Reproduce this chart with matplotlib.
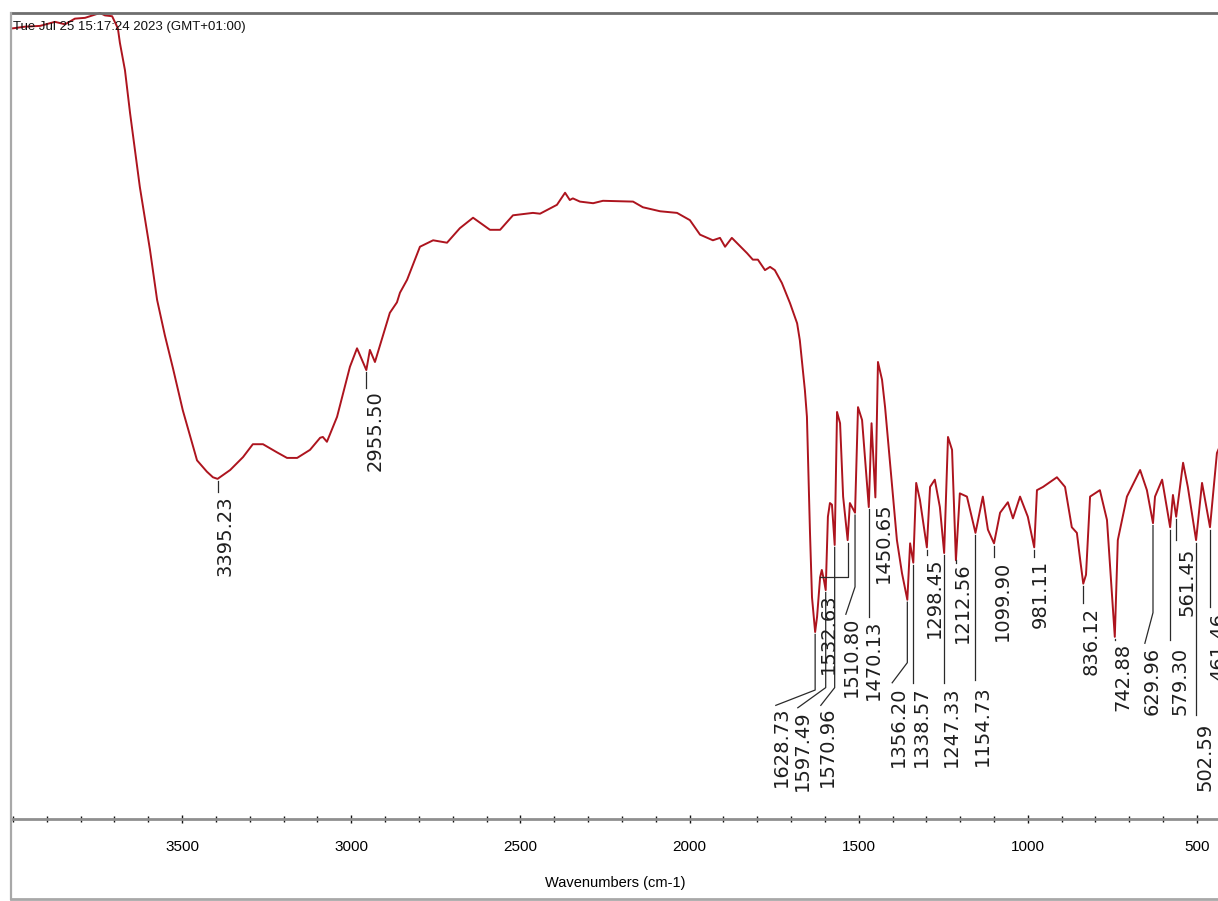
import numpy as np
import matplotlib.pyplot as plt
from matplotlib.lines import Line2D

# FTIR spectrum, wavenumber (cm-1) vs transmittance (%T)
wavenumber = [
    4000, 3965, 3920, 3876, 3846, 3817, 3787, 3758, 3743, 3728, 3707, 3690,
    3684, 3669, 3654, 3625, 3595, 3574, 3551, 3527, 3498, 3456, 3427, 3409,
    3395.23, 3358, 3320, 3291, 3261, 3220, 3190, 3160, 3122, 3092, 3084, 3072,
    3042, 3004, 2983, 2955.50, 2945, 2930, 2886, 2865, 2856, 2835, 2797, 2758,
    2717, 2679, 2640, 2590, 2560, 2522, 2463, 2442, 2392, 2368, 2354, 2345,
    2324, 2285, 2256, 2167, 2138, 2087, 2037, 1999, 1969, 1931, 1910, 1895,
    1875, 1830, 1813, 1798, 1777, 1762, 1748, 1727, 1703, 1682, 1674, 1668,
    1659, 1653, 1644, 1638, 1628.73, 1623, 1614, 1609, 1603, 1597.49, 1591,
    1585, 1579, 1570.96, 1564, 1555, 1546, 1532.63, 1526, 1510.80, 1502, 1490,
    1470.13, 1462, 1450.65, 1443, 1431, 1422, 1408, 1387, 1372, 1356.20, 1348,
    1338.57, 1330, 1319, 1298.45, 1289, 1275, 1260, 1247.33, 1236, 1224,
    1212.56, 1201, 1180, 1154.73, 1133, 1118, 1099.90, 1082, 1059, 1044, 1023,
    1000, 981.11, 973, 955, 914, 890, 870, 855, 845, 836.12, 828, 816, 787,
    766, 742.88, 734, 707, 668, 648, 629.96, 624, 603, 579.30, 571, 561.45,
    541, 527, 502.59, 485, 461.46, 441, 425,
]
transmittance = [
    98.1, 98.3, 98.4, 98.9, 98.6, 99.3, 99.4, 99.8, 100.0, 99.7, 99.6, 98.1,
    96.3, 92.9, 87.6, 78.4, 70.6, 64.4, 60.0, 55.9, 50.7, 44.5, 43.1, 42.4,
    42.2, 43.3, 44.9, 46.5, 46.5, 45.5, 44.8, 44.8, 45.8, 47.3, 47.4, 46.8,
    49.9, 56.1, 58.4, 55.7, 58.2, 56.7, 62.8, 64.1, 65.3, 66.9, 71.0, 71.8,
    71.5, 73.3, 74.6, 73.1, 73.1, 74.9, 75.2, 75.1, 76.2, 77.7, 76.8, 77.0,
    76.6, 76.4, 76.7, 76.6, 75.9, 75.4, 75.2, 74.3, 72.5, 71.8, 72.1, 71.0,
    72.1, 70.2, 69.4, 69.4, 68.1, 68.5, 68.1, 66.5, 64.0, 61.5, 59.4, 56.9,
    53.2, 49.9, 35.6, 27.5, 23.2, 25.1, 30.0, 30.9, 29.7, 28.4, 37.5,
    39.2, 39.0, 34.0, 50.5, 49.1, 40.0, 34.6, 39.2, 38.0, 51.1, 49.5,
    38.7, 49.1, 39.9, 56.7, 54.5, 51.1, 44.5, 34.6, 30.5, 27.2, 34.2,
    31.8, 41.7, 39.6, 33.7, 41.2, 42.1, 38.7, 33.0, 47.4, 45.8,
    32.1, 40.4, 40.0, 35.5, 40.0, 35.9, 34.2, 38.0, 39.3, 37.3, 40.0,
    37.5, 33.7, 40.8, 41.2, 42.4, 41.2, 36.2, 35.5, 32.1, 29.2, 30.3, 40.0, 40.8,
    37.1, 22.6, 34.6, 40.0, 43.3, 40.8, 36.7, 40.0, 42.1, 36.2, 40.2, 37.5,
    44.2, 41.2, 34.6, 41.7, 36.2, 45.4, 47.0,
]

# picked peaks
peaks = [3395.23, 2955.50, 1628.73, 1597.49, 1570.96, 1532.63, 1510.80,
         1470.13, 1450.65, 1356.20, 1338.57, 1298.45, 1247.33, 1212.56,
         1154.73, 1099.90, 981.11, 836.12, 742.88, 629.96, 579.30, 561.45,
         502.59, 461.46]

# leader layout per peak: (knee %T, end wavenumber or None, end %T, text x, text top)
label_layout = [
    (40.6, None, None, 3373, 40.2),
    (53.5, None, None, 2930, 53.2),
    (16.0, 1745, 14.1, 1730, 13.9),
    (16.3, 1680, 13.8, 1665, 13.5),
    (16.3, 1612, 14.1, 1594, 13.9),
    (30.0, 1614, 30.0, 1591, 28.0),
    (28.8, 1538, 25.4, 1523, 25.1),
    (25.1, None, None, 1458, 24.7),
    (39.6, None, None, 1428, 39.3),
    (19.4, 1401, 16.9, 1384, 16.4),
    (16.9, None, None, 1316, 16.4),
    (32.8, None, None, 1277.5, 32.5),
    (16.9, None, None, 1227, 16.4),
    (32.1, None, None, 1192, 31.9),
    (17.2, None, None, 1133, 16.6),
    (32.5, None, None, 1076.5, 32.1),
    (32.5, None, None, 964, 32.1),
    (26.8, None, None, 813, 26.3),
    (22.2, None, None, 719, 21.8),
    (25.6, 654, 21.8, 633, 21.3),
    (22.2, None, None, 550, 21.3),
    (34.6, None, None, 529, 33.7),
    (12.9, None, None, 476.5, 11.9),
    (26.3, None, None, 435, 25.6),
]

sans = ['Liberation Sans', 'DejaVu Sans']

fig = plt.figure(figsize=(12.18, 9.01), dpi=100)
ax = fig.add_axes([13 / 1218, 82 / 901, 1205 / 1218, 806 / 901])

ax.plot(wavenumber, transmittance, color='#ad141e', lw=1.4, clip_on=False)

wn = np.array(wavenumber)[::-1]
tr = np.array(transmittance)[::-1]
for p, (knee, ew, et, tx, ttop) in zip(peaks, label_layout):
    tp = np.interp(p, wn, tr)
    xs = [p, p]
    ys = [tp - 0.3, knee]
    if ew is not None:
        xs.append(ew)
        ys.append(et)
    ax.plot(xs, ys, color='#2a2a2a', lw=0.9)
    ax.text(tx, ttop, f'{p:.2f}', rotation=90, ha='center', va='top',
            fontsize=14, color='#1e1e1e', family='DejaVu Sans')

ax.set_xlim(4000, 437.8)
ax.set_ylim(0, 100)
ax.set_xticks([3500, 3000, 2500, 2000, 1500, 1000, 500])
ax.set_xticks(np.arange(4000, 499, -100), minor=True)
ax.set_yticks([])
for s in ['top', 'left', 'right']:
    ax.spines[s].set_visible(False)
ax.spines['bottom'].set_color('#8f8f8f')
ax.spines['bottom'].set_linewidth(2.0)
ax.tick_params(axis='x', which='major', direction='inout', length=6, width=1.0,
               color='#111111', pad=12, labelsize=11)
ax.tick_params(axis='x', which='minor', direction='inout', length=4, width=1.0,
               color='#111111')
for lbl in ax.get_xticklabels():
    lbl.set_family(sans)
ax.set_xlabel('Wavenumbers (cm-1)', fontsize=10.5, family=sans, labelpad=16)

ax.text(4000, 98.3, 'Tue Jul 25 15:17:24 2023 (GMT+01:00)', fontsize=9.5,
        family=sans, va='center', ha='left', color='#111111')

# window frame
fig.add_artist(Line2D([11 / 1218, 1], [1 - 13 / 901, 1 - 13 / 901],
                      transform=fig.transFigure, color='#6e6e6e', lw=2.0))
fig.add_artist(Line2D([11 / 1218, 11 / 1218], [2 / 901, 1 - 13 / 901],
                      transform=fig.transFigure, color='#a8a8a8', lw=1.6))
fig.add_artist(Line2D([11 / 1218, 1], [2 / 901, 2 / 901],
                      transform=fig.transFigure, color='#a8a8a8', lw=2.0))

fig.savefig('out.png', dpi=100)
